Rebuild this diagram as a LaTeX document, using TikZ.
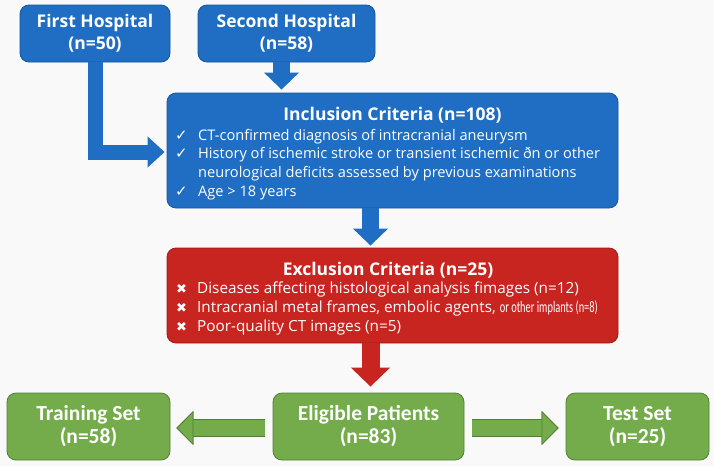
\documentclass[tikz,border=0pt]{standalone}
\usepackage{fontspec}
\usepackage{graphicx}
\setmainfont{Open Sans}
\newfontfamily\symfont{DejaVu Sans}
\newfontfamily\calfont{Carlito}
\usetikzlibrary{arrows.meta}

\definecolor{blueFill}{RGB}{31,110,196}
\definecolor{blueLine}{RGB}{22,84,158}
\definecolor{redFill}{RGB}{200,36,32}
\definecolor{redLine}{RGB}{160,26,24}
\definecolor{greenFill}{RGB}{116,172,76}
\definecolor{greenLine}{RGB}{82,128,52}
\definecolor{paper}{RGB}{249,249,249}

\begin{document}
\begin{tikzpicture}[x=1pt, y=-1pt,
		box/.style={rounded corners=9pt, line width=0.8pt, inner sep=0pt, text=white, align=center},
		bluebox/.style={box, fill=blueFill, draw=blueLine, font=\bfseries\fontsize{17.5}{22}\selectfont},
		redbox/.style={box, fill=redFill, draw=redLine},
		greenbox/.style={box, fill=greenFill, draw=greenLine, font=\calfont\bfseries\fontsize{21.5}{23}\selectfont},
		title/.style={anchor=base, inner sep=0pt, text=white, font=\bfseries\fontsize{17.5}{20}\selectfont},
		item/.style={anchor=base west, inner sep=0pt, text=white, font=\fontsize{14.6}{16}\selectfont},
		ritem/.style={item, font=\fontsize{15.3}{16}\selectfont},
		chk/.style={anchor=base west, inner sep=0pt, text=white, font=\symfont\fontsize{15}{16}\selectfont},
		crs/.style={anchor=base west, inner sep=0pt, text=white, font=\symfont\fontsize{13}{16}\selectfont},
		bluearrow/.style={draw=blueFill, line width=17pt, -{Triangle[width=34pt, length=17pt]}},
		redarrow/.style={draw=redFill, line width=18pt, -{Triangle[width=38pt, length=19pt]}},
		greenarrow/.style={draw=greenFill, line width=16pt,
			-{Triangle[width=34pt, length=17pt, line width=0.8pt, fill=greenFill, color=greenLine]},
			preaction={draw=greenLine, line width=17.6pt}},
	]
		\fill[paper] (0,0) rectangle (714,466);
		\useasboundingbox (0,0) rectangle (714,466);
		
		% Hospitals
		\node[bluebox, minimum width=150pt, minimum height=57pt] (first) at (95,33.5) {First Hospital\\(n=50)};
		\node[bluebox, minimum width=177pt, minimum height=57pt] (second) at (286.5,33.5) {Second Hospital\\(n=58)};
		
		% Inclusion
		\node[bluebox, minimum width=451pt, minimum height=115pt] (incl) at (392.5,150.5) {};
		\node[title] (inclTitle) at (392.5,120) {Inclusion Criteria (n=108)};
		\node[chk] (c1) at (175,140) {✓};
		\node[item] (i1) at (198,140) {CT-confirmed diagnosis of intracranial aneurysm};
		\node[chk] (c2) at (175,158.5) {✓};
		\node[item] (i2) at (198,158.5) {History of ischemic stroke or transient ischemic ðn or other};
		\node[item] (i3) at (198,177) {neurological deficits assessed by previous examinations};
		\node[chk] (c3) at (175,196) {✓};
		\node[item] (i4) at (198,196) {Age > 18 years};
		
		% Exclusion
		\node[redbox, minimum width=451pt, minimum height=95pt] (excl) at (392.5,295.5) {};
		\node[title] (exclTitle) at (388,275) {Exclusion Criteria (n=25)};
		\node[crs] (x1) at (176,293) {✖};
		\node[ritem] (e1) at (197,293) {Diseases affecting histological analysis fimages (n=12)};
		\node[crs] (x2) at (176,312) {✖};
		\node[ritem] (e2) at (197,312) {Intracranial metal frames, embolic agents, \scalebox{0.65}[1]{\calfont\fontsize{16}{16}\selectfont or other implants (n=8)}};
		\node[crs] (x3) at (176,331) {✖};
		\node[ritem] (e3) at (197,331) {Poor-quality CT images (n=5)};
		
		% Split
		\node[greenbox, minimum width=163pt, minimum height=67pt] (train) at (88.5,426.5) {Training Set\\(n=58)};
		\node[greenbox, minimum width=191pt, minimum height=67pt] (elig) at (368.5,426.5) {Eligible Patients\\(n=83)};
		\node[greenbox, minimum width=143pt, minimum height=67pt] (test) at (637.5,426.5) {Test Set\\(n=25)};
		
		% Arrows
		\draw[bluearrow, shorten >=3pt] ([xshift=-5pt]second.south) -- ([xshift=-5pt]second.south |- incl.north);
		\draw[bluearrow, line width=15pt, line join=miter, -{Triangle[width=30pt, length=17pt]}, shorten >=2pt]
			(first.south) |- ([yshift=-1.5pt]incl.west);
		\draw[bluearrow, shorten >=2pt] ([xshift=2pt]incl.south -| elig.north) -- ([xshift=2pt]excl.north -| elig.north);
		\draw[redarrow, shorten >=6pt] ([xshift=2pt]excl.south -| elig.north) -- ([xshift=2pt]elig.north);
		\draw[greenarrow, shorten <=8pt, shorten >=6pt] ([yshift=-1.5pt]elig.west) -- ([yshift=-1.5pt]train.east);
		\draw[greenarrow, shorten <=8pt, shorten >=7pt] ([yshift=-1.5pt]elig.east) -- ([yshift=-1.5pt]test.west);
	\end{tikzpicture}
\end{document}
